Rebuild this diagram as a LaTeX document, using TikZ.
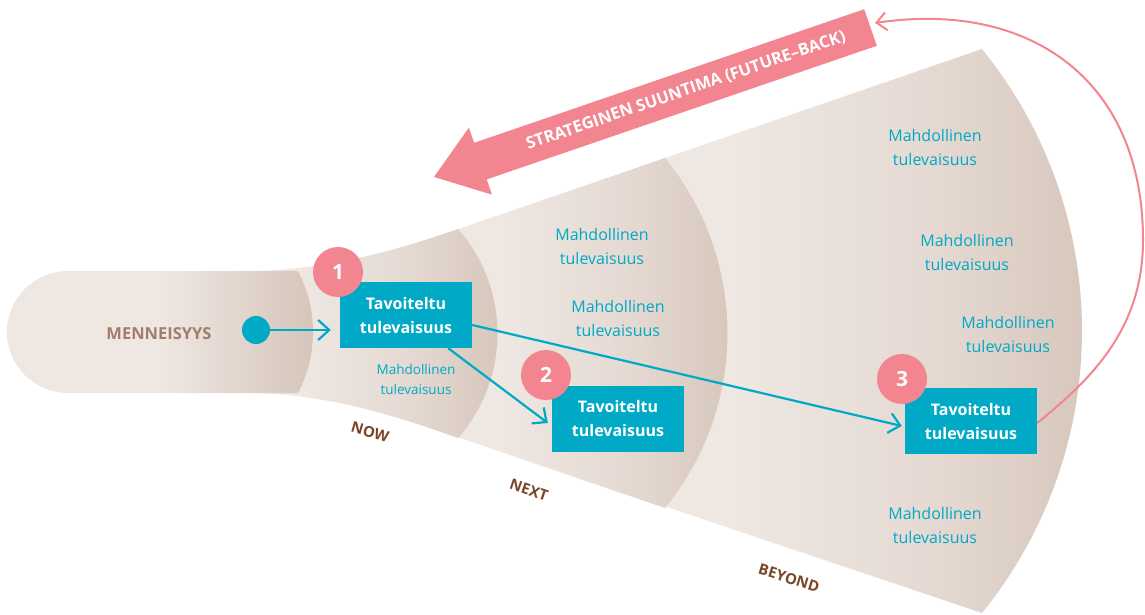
\documentclass[tikz,border=0pt]{standalone}
\usepackage{fontspec}
\setmainfont{Open Sans}
\setsansfont{Open Sans}
\usetikzlibrary{arrows.meta}

\definecolor{fanlt}{HTML}{EEE7E2}
\definecolor{fanmd}{HTML}{E5DAD3}
\definecolor{fandk}{HTML}{D5C4B9}
\definecolor{tealc}{HTML}{00A9C6}
\definecolor{pinkc}{HTML}{F2858F}
\definecolor{brownc}{HTML}{7B4528}
\definecolor{pastc}{HTML}{A27E6A}

% horizontal fades: light on the left, darker towards the bulging edge
\pgfdeclarehorizontalshading{fan}{100bp}{color(0bp)=(fanlt); color(35bp)=(fanlt); color(55bp)=(fanmd); color(75bp)=(fandk); color(100bp)=(fandk)}
\pgfdeclarehorizontalshading{pastfan}{100bp}{color(0bp)=(fanlt); color(50bp)=(fanlt); color(75bp)=(fandk); color(100bp)=(fandk)}

\begin{document}
\begin{tikzpicture}[x=1pt, y=-1pt,
  seg/.style={shading=fan},
  goal/.style={fill=tealc, text=white, minimum width=132pt, minimum height=66pt,
    inner sep=0pt, align=center, font=\fontsize{16}{24}\selectfont\bfseries},
  num/.style={circle, fill=pinkc, text=white, minimum size=50pt, inner sep=0pt,
    font=\fontsize{21}{21}\selectfont\bfseries},
  maybe/.style={text=tealc, align=center, font=\fontsize{16}{24}\selectfont},
  maybesmall/.style={text=tealc, align=center, font=\fontsize{13.5}{20}\selectfont},
  phase/.style={text=brownc, inner sep=0pt, font=\fontsize{15}{15}\selectfont\bfseries},
  flow/.style={draw=tealc, line width=2.2pt, -{Straight Barb[length=11pt,width=20pt]}},
  back/.style={draw=pinkc, line width=2pt, -{Straight Barb[length=10pt,width=18pt]}}
]
\useasboundingbox (0,0) rectangle (1145,615);

% BEYOND segment
\path[seg] (640,166.6) -- (982,49) arc[start angle=-39.05, end angle=39.05, radius=447.6]
  -- (640,498) -- cycle;
% NEXT segment
\path[seg] (440,235.4) -- (665,158) arc[start angle=-39.25, end angle=39.25, radius=276.6]
  -- (440,431) -- cycle;
% NOW segment
\path[seg] (250,271) .. controls (330,270) and (400,249) .. (458,229)
  arc[start angle=-41.35, end angle=41.35, radius=158.2]
  .. controls (400,417.5) and (330,394) .. (250,393) -- cycle;
% past capsule
\path[shading=pastfan] (298,271) -- (68,271) arc[start angle=-90, end angle=-270, radius=61]
  -- (298,393) arc[start angle=27.6, end angle=-27.6, radius=131.5] -- cycle;

% strategic direction arrow
\fill[pinkc] (876.8,45.8) -- (864.2,9.2) -- (474.2,142.8) -- (468.9,127.6) -- (434,177)
  -- (491.9,194.6) -- (486.7,179.4) -- cycle;
\node[text=white, rotate=18.9, font=\fontsize{16.5}{16.5}\selectfont\bfseries] (dir) at (686,91)
  {STRATEGINEN SUUNTIMA (FUTURE–BACK)};

% phase labels
\node[text=pastc, font=\fontsize{16.5}{16.5}\selectfont\bfseries] (past) at (159,334) {MENNEISYYS};
\node[phase, rotate=-16] (now) at (370,432) {NOW};
\node[phase, rotate=-19] (next) at (529,490) {NEXT};
\node[phase, rotate=-17] (beyond) at (789,578) {BEYOND};

% possible futures
\node[maybesmall] (m0) at (416,379) {Mahdollinen\\tulevaisuus};
\node[maybe] (m1) at (602,246) {Mahdollinen\\tulevaisuus};
\node[maybe] (m2) at (618,318) {Mahdollinen\\tulevaisuus};
\node[maybe] (m3) at (935,147) {Mahdollinen\\tulevaisuus};
\node[maybe] (m4) at (967,252) {Mahdollinen\\tulevaisuus};
\node[maybe] (m5) at (1008,334) {Mahdollinen\\tulevaisuus};
\node[maybe] (m6) at (935,525) {Mahdollinen\\tulevaisuus};

% targeted futures
\node[circle, fill=tealc, minimum size=28pt, inner sep=0pt] (dot) at (256,330) {};
\node[goal] (b1) at (406,315) {Tavoiteltu\\tulevaisuus};
\node[goal] (b2) at (618,418.5) {Tavoiteltu\\tulevaisuus};
\node[goal] (b3) at (971,421) {Tavoiteltu\\tulevaisuus};

\draw[flow] (dot.east) -- ([xshift=-9pt,yshift=-15pt]b1.west);
\draw[flow] ([xshift=-24pt]b1.south east) -- ([xshift=-4pt,yshift=-4.5pt]b2.west);
\draw[flow] ([yshift=-10pt]b1.east) -- ([xshift=-3pt,yshift=-5pt]b3.west);

\coordinate (tail) at (875,23);
\draw[back] ([yshift=-2pt]b3.east) .. controls (1090,380) and (1143,330) .. (1143,240)
  .. controls (1143,80) and (1030,0) .. (tail);

\node[num] (n1) at (338,272) {1};
\node[num] (n2) at (546,375) {2};
\node[num] (n3) at (902,379) {3};
\end{tikzpicture}
\end{document}
